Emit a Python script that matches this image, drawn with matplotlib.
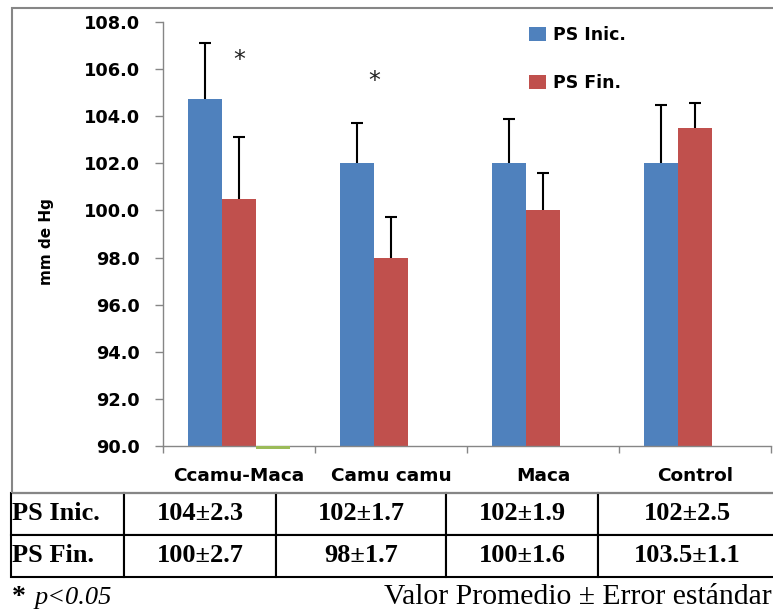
import matplotlib
matplotlib.use('Agg')
import matplotlib.pyplot as plt
import numpy as np
from matplotlib.patches import Rectangle

# chart values
groups = ['Ccamu-Maca', 'Camu camu', 'Maca', 'Control']
ps_inic = [104.75, 102.0, 102.0, 102.0]
ps_inic_err = [2.35, 1.7, 1.87, 2.48]
ps_fin = [100.5, 98.0, 100.0, 103.5]
ps_fin_err = [2.6, 1.73, 1.6, 1.08]
third = [89.88, np.nan, np.nan, np.nan]   # stray green series, just under the axis
sig_x = [0.5, 1.39]
sig_y = [106.4, 105.5]

# table values
row_names = ['PS Inic.', 'PS Fin.']
inic_mean = [104, 102, 102, 102]
inic_se = [2.3, 1.7, 1.9, 2.5]
fin_mean = [100, 98, 100, 103.5]
fin_se = [2.7, 1.7, 1.6, 1.1]

BLUE = '#4F81BD'
RED = '#C0504D'
GREEN = '#9BBB59'
GRAY = '#868686'
BASE = 90.0

W, H = 773, 612
fig = plt.figure(figsize=(W / 100, H / 100), dpi=100)

# chart area border (right side runs off the picture)
fig.add_artist(Rectangle((12 / W, 1 - 493 / H), 766 / W, 485 / H, transform=fig.transFigure,
                         fill=False, edgecolor=GRAY, linewidth=1.5))

ax = fig.add_axes([163 / W, 1 - 446 / H, 608 / W, 424 / H])
x = np.arange(len(groups)) + 0.5
bw = 0.224

ax.bar(x - bw, np.array(ps_inic) - BASE, bw, bottom=BASE, color=BLUE, label='PS Inic.', zorder=2)
ax.bar(x, np.array(ps_fin) - BASE, bw, bottom=BASE, color=RED, label='PS Fin.', zorder=2)
ax.bar(x + bw, np.array(third) - BASE, bw, bottom=BASE, color=GREEN, clip_on=False, zorder=3)

zero = np.zeros(len(groups))
for xs, vals, errs in [(x - bw, ps_inic, ps_inic_err), (x, ps_fin, ps_fin_err)]:
    eb = ax.errorbar(xs, vals, yerr=[zero, errs], fmt='none', ecolor='black',
                     elinewidth=1.5, capsize=4, capthick=1.5, zorder=3)
    # plus-only bars: hide the cap sitting on the bar top
    eb[1][0].set_visible(False)

for sx, sy in zip(sig_x, sig_y):
    ax.text(sx, sy, '*', ha='center', va='center', fontsize=17, color='#222222')

ax.set_xlim(0, 4)
ax.set_ylim(90, 108)
ax.set_yticks(np.arange(90, 108.1, 2))
ax.set_yticklabels(['%.1f' % v for v in np.arange(90, 108.1, 2)], fontsize=12.8, fontweight='bold')
ax.set_xticks(x)
ax.set_xticklabels(groups, fontsize=13.3, fontweight='bold')
ax.set_xticks(np.arange(0, 5), minor=True)
ax.tick_params(axis='x', which='major', length=0, pad=15)
ax.tick_params(axis='x', which='minor', length=5, width=1, color=GRAY)
ax.tick_params(axis='y', length=5.8, width=1, color=GRAY, pad=11)

for s in ['top', 'right']:
    ax.spines[s].set_visible(False)
for s in ['left', 'bottom']:
    ax.spines[s].set_color(GRAY)
    ax.spines[s].set_linewidth(1)

fig.text(47 / W, 1 - 242 / H, 'mm de Hg', rotation=90, ha='center', va='center',
         fontsize=11, fontweight='bold')

leg = ax.legend(loc='upper left', bbox_to_anchor=(529 / W, 1 - 26 / H),
                bbox_transform=fig.transFigure, frameon=False, borderpad=0, borderaxespad=0,
                handlelength=1.0, handleheight=0.85, handletextpad=0.4, labelspacing=1.75,
                prop={'size': 12.5, 'weight': 'bold'})

# table under the chart
tax = fig.add_axes([11 / W, 1 - 577 / H, 765 / W, 84 / H])
tax.axis('off')
cells = []
for name, m, e in [(row_names[0], inic_mean, inic_se), (row_names[1], fin_mean, fin_se)]:
    cells.append([name] + ['%g±%g' % (a, b) for a, b in zip(m, e)])
col_w = np.array([113, 152, 170, 152, 178], dtype=float)
tbl = tax.table(cellText=cells, colWidths=list(col_w / col_w.sum()), cellLoc='center',
                bbox=[0, 0, 1, 1])
tbl.auto_set_font_size(False)
for (r, c), cell in tbl.get_celld().items():
    cell.set_linewidth(1.5)
    cell.set_edgecolor('black')
    cell.set_clip_on(False)
    t = cell.get_text()
    t.set_fontfamily('Liberation Serif')
    t.set_fontweight('bold')
    t.set_fontsize(19)
    if c == 0:
        cell._loc = 'left'
        cell.PAD = 0.012
        t.set_horizontalalignment('left')

# footnotes
fig.text(12 / W, 1 - 604 / H, '*', fontsize=20, fontfamily='Liberation Serif',
         fontweight='bold', va='baseline')
fig.text(35 / W, 1 - 604 / H, 'p<0.05', fontsize=19, fontfamily='Liberation Serif',
         style='italic', va='baseline')
fig.text(772 / W, 1 - 604 / H, 'Valor Promedio ± Error estándar', fontsize=21.3,
         fontfamily='Liberation Serif', ha='right', va='baseline')

fig.savefig('out.png', dpi=100)
